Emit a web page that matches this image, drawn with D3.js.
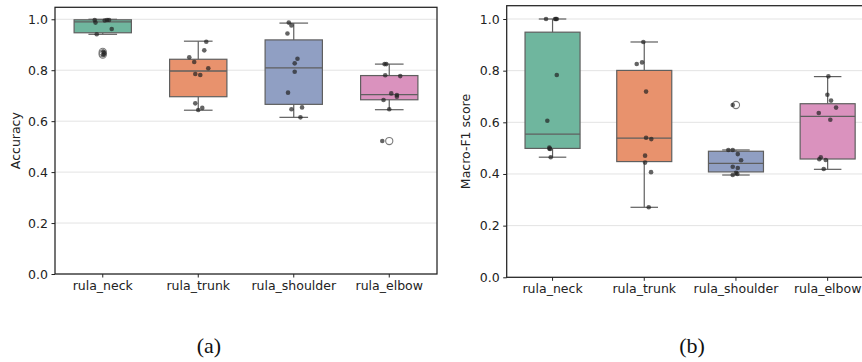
<!DOCTYPE html>
<html lang="en">
<head>
<meta charset="utf-8">
<title>RULA boxplots</title>
<script src="https://d3js.org/d3.v7.min.js"></script>
<style>
  body { margin: 0; background: #fff; }
  text { font-family: "DejaVu Sans", sans-serif; }
</style>
</head>
<body>
<script>
// categories shared by both panels
const categories = ["rula_neck", "rula_trunk", "rula_shoulder", "rula_elbow"];
const yTicks = [0.0, 0.2, 0.4, 0.6, 0.8, 1.0];
const colors = ["#6fb69e", "#e8926d", "#909fc3", "#da92be"];

// (a) Accuracy -- box stats
const accQ1 = [0.947, 0.696, 0.666, 0.684];
const accMedian = [0.990, 0.797, 0.809, 0.704];
const accQ3 = [0.998, 0.843, 0.919, 0.779];
const accLow = [0.941, 0.643, 0.615, 0.645];
const accHigh = [1.000, 0.914, 0.985, 0.824];
const accFliers = [[0.872, 0.866, 0.861], [], [], [0.522]];
const accPoints = [
  [0.997, 0.987, 0.995, 0.997, 0.997, 0.962, 0.941, 0.872, 0.866, 0.861],
  [0.912, 0.878, 0.851, 0.832, 0.808, 0.785, 0.781, 0.670, 0.652, 0.644],
  [0.987, 0.976, 0.944, 0.845, 0.827, 0.794, 0.712, 0.647, 0.654, 0.615],
  [0.824, 0.824, 0.780, 0.777, 0.709, 0.703, 0.696, 0.683, 0.647, 0.522]
];
// strip jitter, in category widths
const accJitter = [
  [-0.084, -0.076, 0.021, 0.045, 0.066, 0.094, -0.063, 0.007, 0.014, 0.005],
  [0.084, 0.063, -0.094, -0.042, 0.105, -0.031, 0.021, -0.031, 0.042, 0.0],
  [-0.052, -0.024, -0.066, 0.039, 0.010, 0.010, -0.060, -0.024, 0.087, 0.070],
  [-0.049, -0.031, -0.042, 0.115, 0.021, 0.080, 0.080, -0.060, 0.0, -0.073]
];

// (b) Macro-F1 score
const f1Q1 = [0.499, 0.448, 0.408, 0.458];
const f1Median = [0.554, 0.539, 0.441, 0.623];
const f1Q3 = [0.949, 0.801, 0.488, 0.672];
const f1Low = [0.465, 0.271, 0.396, 0.418];
const f1High = [1.000, 0.911, 0.493, 0.777];
const f1Fliers = [[], [], [0.667], []];
const f1Points = [
  [1.000, 1.000, 1.000, 1.000, 0.783, 0.606, 0.502, 0.498, 0.497, 0.465],
  [0.911, 0.826, 0.832, 0.719, 0.540, 0.535, 0.471, 0.444, 0.407, 0.271],
  [0.493, 0.493, 0.477, 0.453, 0.428, 0.423, 0.405, 0.396, 0.400, 0.667],
  [0.778, 0.707, 0.684, 0.657, 0.636, 0.610, 0.465, 0.457, 0.454, 0.419]
];
const f1Jitter = [
  [-0.071, 0.027, 0.046, 0.037, 0.046, -0.057, -0.035, -0.033, -0.027, -0.020],
  [-0.010, -0.082, -0.024, 0.020, 0.020, 0.077, 0.009, 0.009, 0.074, 0.049],
  [-0.083, -0.035, 0.020, 0.056, -0.035, 0.020, 0.001, -0.035, 0.015, -0.035],
  [0.008, -0.003, 0.037, 0.092, -0.097, 0.029, -0.075, -0.091, -0.021, -0.043]
];

const W = 862, H = 362;
const svg = d3.select("body").append("svg")
  .attr("width", W).attr("height", H);
svg.append("rect").attr("width", W).attr("height", H).attr("fill", "white");

function drawPanel(p) {
  const g = svg.append("g");
  const x = d3.scaleBand().domain(categories).range([p.left, p.right]).padding(0);
  const y = d3.scaleLinear().domain([0, p.yMax]).range([p.bottom, p.top]);
  const bw = x.bandwidth();
  const boxW = bw * 0.6;
  const edge = "#5f5f5f";

  // grid
  g.selectAll(".grid").data(yTicks).enter().append("line")
    .attr("x1", p.left).attr("x2", p.right)
    .attr("y1", d => y(d)).attr("y2", d => y(d))
    .attr("stroke", "#e3e3e3").attr("stroke-width", 1);

  // boxes
  categories.forEach(function(c, i) {
    const cx = x(c) + bw / 2;
    // whiskers
    g.append("line").attr("x1", cx).attr("x2", cx)
      .attr("y1", y(p.high[i])).attr("y2", y(p.q3[i]))
      .attr("stroke", edge).attr("stroke-width", 1.2);
    g.append("line").attr("x1", cx).attr("x2", cx)
      .attr("y1", y(p.q1[i])).attr("y2", y(p.low[i]))
      .attr("stroke", edge).attr("stroke-width", 1.2);
    // caps
    [p.high[i], p.low[i]].forEach(function(v) {
      g.append("line").attr("x1", cx - boxW / 4).attr("x2", cx + boxW / 4)
        .attr("y1", y(v)).attr("y2", y(v))
        .attr("stroke", edge).attr("stroke-width", 1.2);
    });
    g.append("rect")
      .attr("x", cx - boxW / 2).attr("width", boxW)
      .attr("y", y(p.q3[i])).attr("height", y(p.q1[i]) - y(p.q3[i]))
      .attr("fill", colors[i]).attr("stroke", edge).attr("stroke-width", 1.2);
    g.append("line").attr("x1", cx - boxW / 2).attr("x2", cx + boxW / 2)
      .attr("y1", y(p.median[i])).attr("y2", y(p.median[i]))
      .attr("stroke", edge).attr("stroke-width", 1.3);
    // fliers
    g.selectAll(null).data(p.fliers[i]).enter().append("circle")
      .attr("cx", cx).attr("cy", d => y(d)).attr("r", 3.6)
      .attr("fill", "none").attr("stroke", "#7a7a7a").attr("stroke-width", 1.1);
    // strip points
    g.selectAll(null).data(p.points[i]).enter().append("circle")
      .attr("cx", (d, j) => cx + p.jitter[i][j] * bw)
      .attr("cy", d => y(d)).attr("r", 2.3)
      .attr("fill", "#222").attr("fill-opacity", 0.7);
  });

  // axes
  const ya = g.append("g").attr("transform", "translate(" + p.left + ",0)")
    .call(d3.axisLeft(y).tickValues(yTicks).tickFormat(d3.format(".1f"))
      .tickSize(3.5).tickPadding(3.5));
  const xa = g.append("g").attr("transform", "translate(0," + p.bottom + ")")
    .call(d3.axisBottom(x).tickSize(3.5).tickPadding(3.5));
  [ya, xa].forEach(function(a) {
    a.select(".domain").remove();
    a.selectAll("line").attr("stroke", "#222");
    a.selectAll("text").attr("fill", "#222").style("font-size", "12.5px")
      .style("font-family", "DejaVu Sans");
  });

  // spines
  g.append("rect").attr("x", p.left).attr("y", p.top)
    .attr("width", p.right - p.left).attr("height", p.bottom - p.top)
    .attr("fill", "none").attr("stroke", "#222").attr("stroke-width", 1.25);

  g.append("text")
    .attr("transform", "translate(" + p.labelX + "," + ((p.top + p.bottom) / 2) + ") rotate(-90)")
    .attr("text-anchor", "middle").style("font-size", "12.5px").attr("fill", "#222")
    .text(p.label);

  svg.append("text").attr("x", p.subX).attr("y", 353)
    .attr("text-anchor", "middle")
    .style("font-family", "Liberation Serif, serif").style("font-size", "22px")
    .attr("fill", "#111").text(p.sub);
}

drawPanel({
  left: 55, right: 437, top: 7.3, bottom: 274, yMax: 1.047,
  q1: accQ1, median: accMedian, q3: accQ3, low: accLow, high: accHigh,
  fliers: accFliers, points: accPoints, jitter: accJitter,
  label: "Accuracy", labelX: 20, sub: "(a)", subX: 209
});

drawPanel({
  left: 506.7, right: 873.5, top: 5.7, bottom: 277.3, yMax: 1.0515,
  q1: f1Q1, median: f1Median, q3: f1Q3, low: f1Low, high: f1High,
  fliers: f1Fliers, points: f1Points, jitter: f1Jitter,
  label: "Macro-F1 score", labelX: 470, sub: "(b)", subX: 692
});
</script>
</body>
</html>
